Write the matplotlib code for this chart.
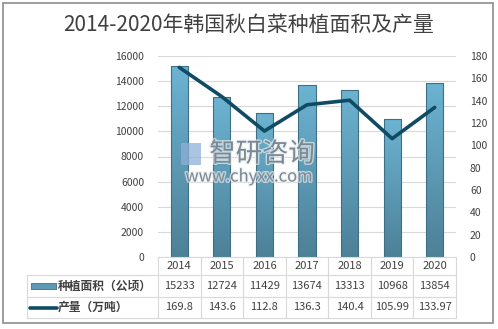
import numpy as np
import matplotlib
matplotlib.use('Agg')
import matplotlib.pyplot as plt
import matplotlib.patheffects as pe
from matplotlib.patches import Rectangle
from matplotlib.lines import Line2D
from matplotlib.colors import LinearSegmentedColormap

plt.rcParams['font.family'] = ['Noto Sans CJK SC', 'DejaVu Sans']

# 数据
years = ['2014', '2015', '2016', '2017', '2018', '2019', '2020']
area = [15233, 12724, 11429, 13674, 13313, 10968, 13854]          # 种植面积（公顷）
output = [169.8, 143.6, 112.8, 136.3, 140.4, 105.99, 133.97]      # 产量（万吨）
area_labels = ['15233', '12724', '11429', '13674', '13313', '10968', '13854']
output_labels = ['169.8', '143.6', '112.8', '136.3', '140.4', '105.99', '133.97']
series_names = ['种植面积（公顷）', '产量（万吨）']
title = '2014-2020年韩国秋白菜种植面积及产量'

W, H = 498, 329
fig = plt.figure(figsize=(W / 100, H / 100), dpi=100)


def fx(px):
    return px / W


def fy(py):
    return 1 - py / H


# 外框
fig.add_artist(Rectangle((fx(3), fy(323)), fx(490), 320 / H, transform=fig.transFigure,
                         fill=False, edgecolor='#8c8c8c', linewidth=1.2))

fig.text(0.5, fy(25), title, ha='center', va='center', fontsize=15, color='#404040')

x0, x1, ytop, ybot = 158, 456, 56, 257
ax = fig.add_axes([fx(x0), fy(ybot), fx(x1 - x0), (ybot - ytop) / H])
ax2 = ax.twinx()

x = np.arange(len(years))
bar_w = 0.4
cmap = LinearSegmentedColormap.from_list('bar', ['#4d8197', '#6cb3d2'])
grad = np.linspace(0, 1, 100).reshape(-1, 1)
bars = ax.bar(x, area, width=bar_w, color='none', edgecolor='#3f6f82', linewidth=0.8, zorder=3)
for b in bars:
    bx, by = b.get_x(), b.get_y()
    im = ax.imshow(grad, extent=[bx, bx + b.get_width(), by, by + b.get_height()],
                   origin='lower', cmap=cmap, aspect='auto', zorder=2)
    im.set_clip_path(b)

ax.set_xlim(-0.5, len(years) - 0.5)
ax.set_ylim(0, 16000)
ax.set_yticks(np.arange(0, 16001, 2000))
ax.set_xticks([])
ax.grid(axis='y', color='#d9d9d9', linewidth=0.8, zorder=0)
ax.set_axisbelow(True)
for s in ax.spines.values():
    s.set_visible(False)
ax.tick_params(axis='y', length=0, pad=10, labelsize=7.5, labelcolor='#404040')

ax2.plot(x, output, color='#0f4c63', linewidth=2.6, solid_capstyle='round', zorder=5)
ax2.set_ylim(0, 180)
ax2.set_yticks(np.arange(0, 181, 20))
for s in ax2.spines.values():
    s.set_visible(False)
ax2.tick_params(axis='y', length=0, pad=10, labelsize=7.5, labelcolor='#404040')

# 水印
glow = [pe.withStroke(linewidth=2, foreground='#e8eef2', alpha=0.7)]
fig.text(fx(262), fy(154), '智研咨询', ha='center', va='center', fontsize=19,
         color='#6f7b85', alpha=0.85, zorder=10, path_effects=glow)
fig.text(fx(249), fy(177), 'www.chyxx.com', ha='center', va='center', fontsize=12,
         color='#6f7b85', alpha=0.85, zorder=10, path_effects=glow)
fig.add_artist(Rectangle((fx(181), fy(165)), fx(20), 22 / H, transform=fig.transFigure,
                         facecolor='#8fb0d8', edgecolor='none', alpha=0.75, zorder=10))

# 数据表
tc = '#d9d9d9'
row_y = [257, 275, 297, 318]
col_w = (x1 - x0) / len(years)
left = 27


def hline(px_a, px_b, py):
    fig.add_artist(Line2D([fx(px_a), fx(px_b)], [fy(py), fy(py)], transform=fig.transFigure,
                          color=tc, linewidth=0.8))


def vline(px, py_a, py_b):
    fig.add_artist(Line2D([fx(px), fx(px)], [fy(py_a), fy(py_b)], transform=fig.transFigure,
                          color=tc, linewidth=0.8))


hline(x0, x1, row_y[0])
for py in row_y[1:]:
    hline(left, x1, py)
vline(left, row_y[1], row_y[3])
for i in range(len(years) + 1):
    vline(x0 + i * col_w, row_y[0], row_y[3])

tkw = dict(ha='center', va='center', fontsize=8, color='#404040')
for i in range(len(years)):
    cx = fx(x0 + (i + 0.5) * col_w)
    fig.text(cx, fy((row_y[0] + row_y[1]) / 2), years[i], **tkw)
    fig.text(cx, fy((row_y[1] + row_y[2]) / 2), area_labels[i], **tkw)
    fig.text(cx, fy((row_y[2] + row_y[3]) / 2), output_labels[i], **tkw)

# 图例键
ym1 = (row_y[1] + row_y[2]) / 2
fig.add_artist(Rectangle((fx(31), fy(ym1 + 3)), fx(25), 6 / H, transform=fig.transFigure,
                         facecolor='#5e9ab4', edgecolor='#3f6f82', linewidth=0.6))
ym2 = (row_y[2] + row_y[3]) / 2
fig.add_artist(Line2D([fx(30), fx(57)], [fy(ym2), fy(ym2)], transform=fig.transFigure,
                      color='#0f4c63', linewidth=2.6, solid_capstyle='round'))
fig.text(fx(58), fy(ym1), series_names[0], ha='left', va='center', fontsize=8.5,
         color='#404040', fontweight='bold')
fig.text(fx(58), fy(ym2), series_names[1], ha='left', va='center', fontsize=8.5,
         color='#404040', fontweight='bold')

fig.savefig('out.png', dpi=100)
